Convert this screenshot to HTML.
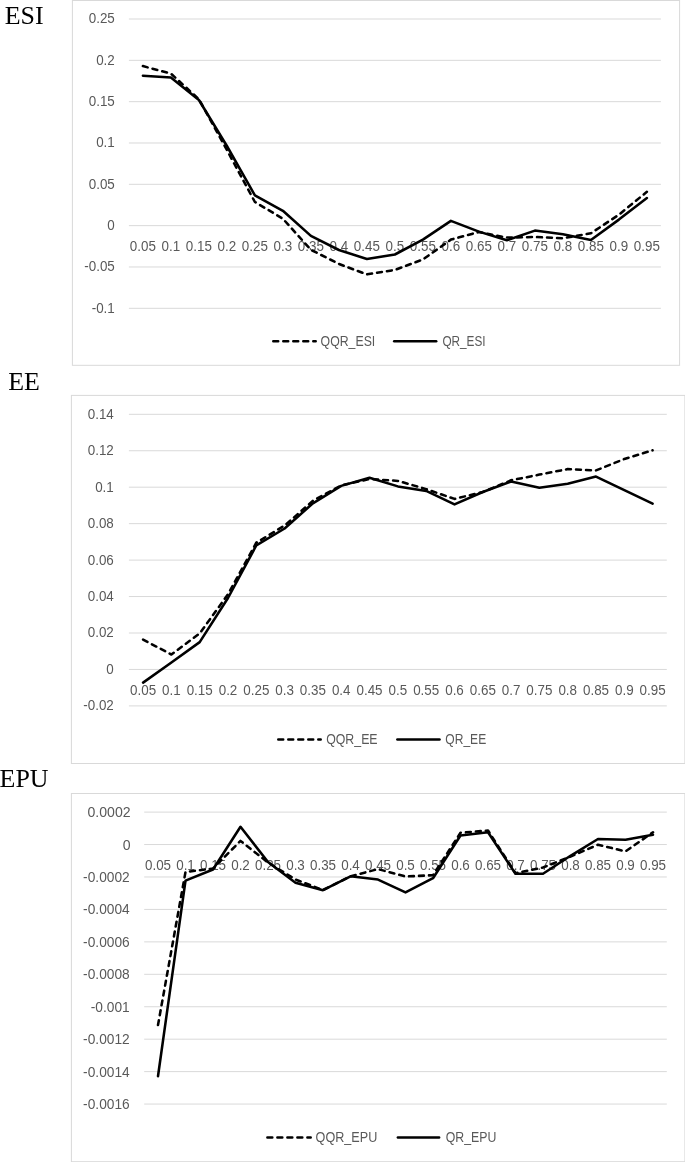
<!DOCTYPE html>
<html><head><meta charset="utf-8"><title>Charts</title>
<style>
html,body{margin:0;padding:0;background:#fff;}
svg{display:block;}
.t{font-family:"Liberation Serif",serif;font-size:24.2px;fill:#000;}
.a{font-family:"Liberation Sans",sans-serif;font-size:13.9px;fill:#595959;}
.g{stroke:#d9d9d9;stroke-width:1;fill:none;}
.s{stroke:#000;stroke-width:2.55;fill:none;stroke-linecap:round;stroke-linejoin:round;}
.d{stroke:#000;stroke-width:2.55;fill:none;stroke-linecap:round;stroke-linejoin:round;stroke-dasharray:4.9 5.1;}
</style></head><body>
<svg width="685" height="1162" viewBox="0 0 685 1162">
<rect x="0" y="0" width="685" height="1162" fill="#fff"/>
<text class="t" transform="translate(24.1 24.0) scale(1.072 1)" text-anchor="middle">ESI</text>
<rect class="g" x="72.4" y="0.5" width="607.2" height="364.8"/>
<line class="g" x1="128.9" y1="19.00" x2="660.9" y2="19.00"/><text class="a" transform="translate(114.8 23.4) scale(0.965 1)" text-anchor="end">0.25</text>
<line class="g" x1="128.9" y1="60.33" x2="660.9" y2="60.33"/><text class="a" transform="translate(114.8 64.7) scale(0.965 1)" text-anchor="end">0.2</text>
<line class="g" x1="128.9" y1="101.66" x2="660.9" y2="101.66"/><text class="a" transform="translate(114.8 106.0) scale(0.965 1)" text-anchor="end">0.15</text>
<line class="g" x1="128.9" y1="142.99" x2="660.9" y2="142.99"/><text class="a" transform="translate(114.8 147.3) scale(0.965 1)" text-anchor="end">0.1</text>
<line class="g" x1="128.9" y1="184.32" x2="660.9" y2="184.32"/><text class="a" transform="translate(114.8 188.7) scale(0.965 1)" text-anchor="end">0.05</text>
<line class="g" x1="128.9" y1="225.65" x2="660.9" y2="225.65"/><text class="a" transform="translate(114.8 230.0) scale(0.965 1)" text-anchor="end">0</text>
<line class="g" x1="128.9" y1="266.98" x2="660.9" y2="266.98"/><text class="a" transform="translate(114.8 271.3) scale(0.965 1)" text-anchor="end">-0.05</text>
<line class="g" x1="128.9" y1="308.31" x2="660.9" y2="308.31"/><text class="a" transform="translate(114.8 312.7) scale(0.965 1)" text-anchor="end">-0.1</text>
<text class="a" transform="translate(142.9 251.0) scale(0.965 1)" text-anchor="middle">0.05</text><text class="a" transform="translate(170.9 251.0) scale(0.965 1)" text-anchor="middle">0.1</text><text class="a" transform="translate(198.9 251.0) scale(0.965 1)" text-anchor="middle">0.15</text><text class="a" transform="translate(226.9 251.0) scale(0.965 1)" text-anchor="middle">0.2</text><text class="a" transform="translate(254.9 251.0) scale(0.965 1)" text-anchor="middle">0.25</text><text class="a" transform="translate(282.9 251.0) scale(0.965 1)" text-anchor="middle">0.3</text><text class="a" transform="translate(310.9 251.0) scale(0.965 1)" text-anchor="middle">0.35</text><text class="a" transform="translate(338.9 251.0) scale(0.965 1)" text-anchor="middle">0.4</text><text class="a" transform="translate(366.9 251.0) scale(0.965 1)" text-anchor="middle">0.45</text><text class="a" transform="translate(394.9 251.0) scale(0.965 1)" text-anchor="middle">0.5</text><text class="a" transform="translate(422.9 251.0) scale(0.965 1)" text-anchor="middle">0.55</text><text class="a" transform="translate(450.9 251.0) scale(0.965 1)" text-anchor="middle">0.6</text><text class="a" transform="translate(478.9 251.0) scale(0.965 1)" text-anchor="middle">0.65</text><text class="a" transform="translate(506.9 251.0) scale(0.965 1)" text-anchor="middle">0.7</text><text class="a" transform="translate(534.9 251.0) scale(0.965 1)" text-anchor="middle">0.75</text><text class="a" transform="translate(562.9 251.0) scale(0.965 1)" text-anchor="middle">0.8</text><text class="a" transform="translate(590.9 251.0) scale(0.965 1)" text-anchor="middle">0.85</text><text class="a" transform="translate(618.9 251.0) scale(0.965 1)" text-anchor="middle">0.9</text><text class="a" transform="translate(646.9 251.0) scale(0.965 1)" text-anchor="middle">0.95</text>
<polyline class="d" points="142.9,66.1 170.9,73.6 198.9,99.2 226.9,150.0 254.9,202.0 282.9,218.7 310.9,249.8 338.9,263.9 366.9,274.4 394.9,269.9 422.9,259.5 450.9,239.6 478.9,232.0 506.9,237.6 534.9,237.0 562.9,238.3 590.9,233.3 618.9,214.7 646.9,191.8"/>
<polyline class="s" points="142.9,75.8 170.9,77.5 198.9,100.0 226.9,146.0 254.9,195.3 282.9,210.8 310.9,235.9 338.9,250.0 366.9,259.0 394.9,254.5 422.9,239.6 450.9,220.9 478.9,231.6 506.9,240.3 534.9,230.6 562.9,234.2 590.9,240.0 618.9,219.6 646.9,198.0"/>
<line class="d" x1="273.3" y1="341.3" x2="315.7" y2="341.3"/><text class="a" x="320.6" y="345.6" textLength="54.7" lengthAdjust="spacingAndGlyphs">QQR_ESI</text><line class="s" x1="394.2" y1="341.3" x2="436.2" y2="341.3"/><text class="a" x="442.4" y="345.6" textLength="43.2" lengthAdjust="spacingAndGlyphs">QR_ESI</text>
<text class="t" transform="translate(24.1 390.0) scale(1.072 1)" text-anchor="middle">EE</text>
<rect class="g" x="71.4" y="395.4" width="613.5" height="368.1"/>
<line class="g" x1="128.9" y1="414.30" x2="666.8" y2="414.30"/><text class="a" transform="translate(113.8 418.7) scale(0.965 1)" text-anchor="end">0.14</text>
<line class="g" x1="128.9" y1="450.75" x2="666.8" y2="450.75"/><text class="a" transform="translate(113.8 455.1) scale(0.965 1)" text-anchor="end">0.12</text>
<line class="g" x1="128.9" y1="487.20" x2="666.8" y2="487.20"/><text class="a" transform="translate(113.8 491.6) scale(0.965 1)" text-anchor="end">0.1</text>
<line class="g" x1="128.9" y1="523.65" x2="666.8" y2="523.65"/><text class="a" transform="translate(113.8 528.0) scale(0.965 1)" text-anchor="end">0.08</text>
<line class="g" x1="128.9" y1="560.10" x2="666.8" y2="560.10"/><text class="a" transform="translate(113.8 564.5) scale(0.965 1)" text-anchor="end">0.06</text>
<line class="g" x1="128.9" y1="596.55" x2="666.8" y2="596.55"/><text class="a" transform="translate(113.8 600.9) scale(0.965 1)" text-anchor="end">0.04</text>
<line class="g" x1="128.9" y1="633.00" x2="666.8" y2="633.00"/><text class="a" transform="translate(113.8 637.4) scale(0.965 1)" text-anchor="end">0.02</text>
<line class="g" x1="128.9" y1="669.45" x2="666.8" y2="669.45"/><text class="a" transform="translate(113.8 673.8) scale(0.965 1)" text-anchor="end">0</text>
<line class="g" x1="128.9" y1="705.90" x2="666.8" y2="705.90"/><text class="a" transform="translate(113.8 710.3) scale(0.965 1)" text-anchor="end">-0.02</text>
<text class="a" transform="translate(143.1 695.0) scale(0.965 1)" text-anchor="middle">0.05</text><text class="a" transform="translate(171.4 695.0) scale(0.965 1)" text-anchor="middle">0.1</text><text class="a" transform="translate(199.7 695.0) scale(0.965 1)" text-anchor="middle">0.15</text><text class="a" transform="translate(228.0 695.0) scale(0.965 1)" text-anchor="middle">0.2</text><text class="a" transform="translate(256.3 695.0) scale(0.965 1)" text-anchor="middle">0.25</text><text class="a" transform="translate(284.6 695.0) scale(0.965 1)" text-anchor="middle">0.3</text><text class="a" transform="translate(312.9 695.0) scale(0.965 1)" text-anchor="middle">0.35</text><text class="a" transform="translate(341.2 695.0) scale(0.965 1)" text-anchor="middle">0.4</text><text class="a" transform="translate(369.5 695.0) scale(0.965 1)" text-anchor="middle">0.45</text><text class="a" transform="translate(397.9 695.0) scale(0.965 1)" text-anchor="middle">0.5</text><text class="a" transform="translate(426.2 695.0) scale(0.965 1)" text-anchor="middle">0.55</text><text class="a" transform="translate(454.5 695.0) scale(0.965 1)" text-anchor="middle">0.6</text><text class="a" transform="translate(482.8 695.0) scale(0.965 1)" text-anchor="middle">0.65</text><text class="a" transform="translate(511.1 695.0) scale(0.965 1)" text-anchor="middle">0.7</text><text class="a" transform="translate(539.4 695.0) scale(0.965 1)" text-anchor="middle">0.75</text><text class="a" transform="translate(567.7 695.0) scale(0.965 1)" text-anchor="middle">0.8</text><text class="a" transform="translate(596.0 695.0) scale(0.965 1)" text-anchor="middle">0.85</text><text class="a" transform="translate(624.3 695.0) scale(0.965 1)" text-anchor="middle">0.9</text><text class="a" transform="translate(652.6 695.0) scale(0.965 1)" text-anchor="middle">0.95</text>
<polyline class="d" points="143.1,639.6 171.4,654.5 199.7,633.4 228.0,594.3 256.3,542.7 284.6,525.6 312.9,500.8 341.2,485.4 369.5,479.0 397.9,480.9 426.2,489.1 454.5,498.9 482.8,492.0 511.1,480.3 539.4,474.6 567.7,469.1 596.0,470.4 624.3,459.0 652.6,450.3"/>
<polyline class="s" points="143.1,682.6 171.4,662.5 199.7,642.1 228.0,598.0 256.3,545.4 284.6,528.5 312.9,503.3 341.2,485.9 369.5,477.7 397.9,486.4 426.2,490.9 454.5,504.4 482.8,492.0 511.1,481.5 539.4,487.7 567.7,483.8 596.0,476.6 624.3,490.2 652.6,503.6"/>
<line class="d" x1="278.3" y1="739.5" x2="320.7" y2="739.5"/><text class="a" x="326.2" y="743.9" textLength="51.4" lengthAdjust="spacingAndGlyphs">QQR_EE</text><line class="s" x1="397.4" y1="739.5" x2="439.5" y2="739.5"/><text class="a" x="445.3" y="743.9" textLength="40.9" lengthAdjust="spacingAndGlyphs">QR_EE</text>
<text class="t" transform="translate(24.1 787.3) scale(1.072 1)" text-anchor="middle">EPU</text>
<rect class="g" x="71.4" y="793.5" width="613.5" height="368.2"/>
<line class="g" x1="144.2" y1="812.10" x2="666.8" y2="812.10"/><text class="a" transform="translate(130.6 817.1) scale(1.013 1)" text-anchor="end">0.0002</text>
<line class="g" x1="144.2" y1="844.54" x2="666.8" y2="844.54"/><text class="a" transform="translate(130.6 849.5) scale(1.013 1)" text-anchor="end">0</text>
<line class="g" x1="144.2" y1="876.98" x2="666.8" y2="876.98"/><text class="a" transform="translate(129.7 882.0) scale(0.989 1)" text-anchor="end">-0.0002</text>
<line class="g" x1="144.2" y1="909.42" x2="666.8" y2="909.42"/><text class="a" transform="translate(129.7 914.4) scale(0.989 1)" text-anchor="end">-0.0004</text>
<line class="g" x1="144.2" y1="941.86" x2="666.8" y2="941.86"/><text class="a" transform="translate(129.7 946.9) scale(0.989 1)" text-anchor="end">-0.0006</text>
<line class="g" x1="144.2" y1="974.30" x2="666.8" y2="974.30"/><text class="a" transform="translate(129.7 979.3) scale(0.989 1)" text-anchor="end">-0.0008</text>
<line class="g" x1="144.2" y1="1006.74" x2="666.8" y2="1006.74"/><text class="a" transform="translate(129.7 1011.7) scale(0.989 1)" text-anchor="end">-0.001</text>
<line class="g" x1="144.2" y1="1039.18" x2="666.8" y2="1039.18"/><text class="a" transform="translate(129.7 1044.2) scale(0.989 1)" text-anchor="end">-0.0012</text>
<line class="g" x1="144.2" y1="1071.62" x2="666.8" y2="1071.62"/><text class="a" transform="translate(129.7 1076.6) scale(0.989 1)" text-anchor="end">-0.0014</text>
<line class="g" x1="144.2" y1="1104.06" x2="666.8" y2="1104.06"/><text class="a" transform="translate(129.7 1109.1) scale(0.989 1)" text-anchor="end">-0.0016</text>
<text class="a" transform="translate(158.0 869.5) scale(0.965 1)" text-anchor="middle">0.05</text><text class="a" transform="translate(185.5 869.5) scale(0.965 1)" text-anchor="middle">0.1</text><text class="a" transform="translate(213.0 869.5) scale(0.965 1)" text-anchor="middle">0.15</text><text class="a" transform="translate(240.5 869.5) scale(0.965 1)" text-anchor="middle">0.2</text><text class="a" transform="translate(268.0 869.5) scale(0.965 1)" text-anchor="middle">0.25</text><text class="a" transform="translate(295.5 869.5) scale(0.965 1)" text-anchor="middle">0.3</text><text class="a" transform="translate(323.0 869.5) scale(0.965 1)" text-anchor="middle">0.35</text><text class="a" transform="translate(350.5 869.5) scale(0.965 1)" text-anchor="middle">0.4</text><text class="a" transform="translate(378.0 869.5) scale(0.965 1)" text-anchor="middle">0.45</text><text class="a" transform="translate(405.5 869.5) scale(0.965 1)" text-anchor="middle">0.5</text><text class="a" transform="translate(433.0 869.5) scale(0.965 1)" text-anchor="middle">0.55</text><text class="a" transform="translate(460.5 869.5) scale(0.965 1)" text-anchor="middle">0.6</text><text class="a" transform="translate(488.0 869.5) scale(0.965 1)" text-anchor="middle">0.65</text><text class="a" transform="translate(515.5 869.5) scale(0.965 1)" text-anchor="middle">0.7</text><text class="a" transform="translate(543.0 869.5) scale(0.965 1)" text-anchor="middle">0.75</text><text class="a" transform="translate(570.5 869.5) scale(0.965 1)" text-anchor="middle">0.8</text><text class="a" transform="translate(598.0 869.5) scale(0.965 1)" text-anchor="middle">0.85</text><text class="a" transform="translate(625.5 869.5) scale(0.965 1)" text-anchor="middle">0.9</text><text class="a" transform="translate(653.0 869.5) scale(0.965 1)" text-anchor="middle">0.95</text>
<polyline class="d" points="158.0,1025.0 185.5,872.0 213.0,868.5 240.5,840.9 268.0,862.5 295.5,879.5 323.0,890.0 350.5,876.3 378.0,869.1 405.5,876.5 433.0,875.2 460.5,832.8 488.0,830.5 515.5,873.2 543.0,867.5 570.5,856.6 598.0,844.7 625.5,851.4 653.0,832.3"/>
<polyline class="s" points="158.0,1076.2 185.5,880.6 213.0,869.5 240.5,826.8 268.0,862.0 295.5,882.7 323.0,890.2 350.5,876.3 378.0,879.6 405.5,892.4 433.0,878.2 460.5,835.5 488.0,832.3 515.5,873.8 543.0,873.8 570.5,855.8 598.0,839.0 625.5,839.7 653.0,834.7"/>
<line class="d" x1="267.4" y1="1137.5" x2="310.7" y2="1137.5"/><text class="a" x="315.6" y="1141.9" textLength="61.7" lengthAdjust="spacingAndGlyphs">QQR_EPU</text><line class="s" x1="397.9" y1="1137.5" x2="439.1" y2="1137.5"/><text class="a" x="445.8" y="1141.9" textLength="50.6" lengthAdjust="spacingAndGlyphs">QR_EPU</text>
</svg>
</body></html>
